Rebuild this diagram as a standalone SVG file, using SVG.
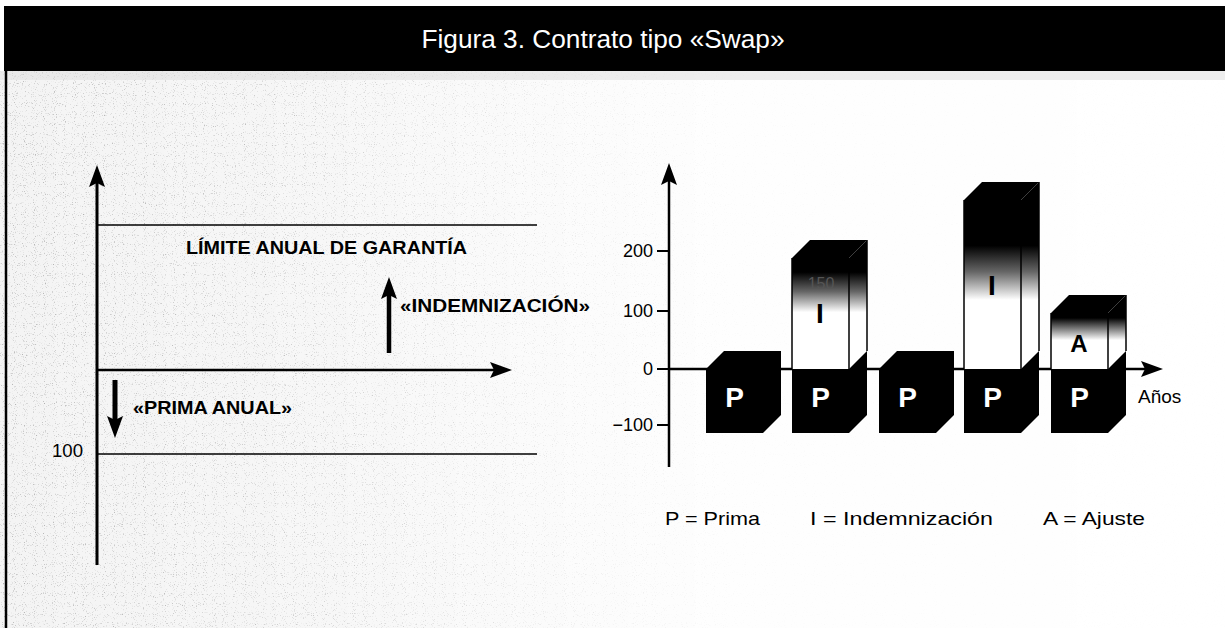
<svg xmlns="http://www.w3.org/2000/svg" width="1225" height="628" viewBox="0 0 1225 628">
<style>
.t{font-family:"Liberation Sans",Arial,sans-serif;fill:#000}
.b{font-weight:bold}
.w{fill:#fff}
.ln{stroke:#000;fill:none}
.blk{fill:#000}
.edge{stroke:#000;stroke-width:1.5;fill:none}
</style>
<defs>
<marker id="ah" markerUnits="userSpaceOnUse" markerWidth="22" markerHeight="16" viewBox="0 0 22 16" refX="4" refY="8" orient="auto">
<path d="M0,0 L22,8 L0,16 L4,8 z" fill="#000"/>
</marker>
<filter id="grain" x="0" y="0" width="100%" height="100%">
<feTurbulence type="fractalNoise" baseFrequency="0.9" numOctaves="1" seed="7" result="n"/>
<feColorMatrix in="n" type="matrix" values="0 0 0 0 0.4  0 0 0 0 0.4  0 0 0 0 0.4  4 0 0 0 -2.35"/>
</filter>
<linearGradient id="fadeH" x1="0" y1="0" x2="1225" y2="0" gradientUnits="userSpaceOnUse">
<stop offset="0" stop-color="#fff" stop-opacity="1"/>
<stop offset="0.25" stop-color="#fff" stop-opacity="0.75"/>
<stop offset="0.47" stop-color="#fff" stop-opacity="0.3"/>
<stop offset="0.6" stop-color="#fff" stop-opacity="0.08"/>
<stop offset="1" stop-color="#fff" stop-opacity="0.03"/>
</linearGradient>
<mask id="fadeMask"><rect x="0" y="0" width="1225" height="628" fill="url(#fadeH)"/></mask>
<linearGradient id="g2" x1="0" y1="240" x2="0" y2="369" gradientUnits="userSpaceOnUse">
<stop offset="0" stop-color="#000"/><stop offset="0.25" stop-color="#000"/><stop offset="0.4" stop-color="#666"/><stop offset="0.56" stop-color="#fff"/><stop offset="1" stop-color="#fff"/>
</linearGradient>
<linearGradient id="g4" x1="0" y1="182" x2="0" y2="369" gradientUnits="userSpaceOnUse">
<stop offset="0" stop-color="#000"/><stop offset="0.34" stop-color="#000"/><stop offset="0.48" stop-color="#666"/><stop offset="0.63" stop-color="#fff"/><stop offset="1" stop-color="#fff"/>
</linearGradient>
<linearGradient id="g5" x1="0" y1="295" x2="0" y2="369" gradientUnits="userSpaceOnUse">
<stop offset="0" stop-color="#000"/><stop offset="0.31" stop-color="#000"/><stop offset="0.45" stop-color="#777"/><stop offset="0.61" stop-color="#fff"/><stop offset="1" stop-color="#fff"/>
</linearGradient>
</defs>

<rect x="0" y="0" width="1225" height="628" fill="#fff"/>
<g id="texture" mask="url(#fadeMask)">
<rect x="0" y="71" width="1225" height="557" fill="#f4f4f4"/>
<rect x="0" y="71" width="1225" height="557" filter="url(#grain)"/>
</g>
<rect x="0" y="71" width="1225" height="9" fill="#ddd" opacity="0.5"/>

<g id="header">
<rect x="4" y="6" width="1221" height="65" fill="#000"/>
<text class="t w" x="603" y="48" font-size="25" text-anchor="middle" textLength="363" lengthAdjust="spacingAndGlyphs">Figura 3. Contrato tipo «Swap»</text>
</g>
<line x1="6" y1="71" x2="6" y2="628" stroke="#000" stroke-width="2.5"/>

<g id="connectors">
<line class="ln" x1="97" y1="565" x2="97" y2="183" stroke-width="3" marker-end="url(#ah)"/>
<line class="ln" x1="97" y1="225" x2="537" y2="225" stroke-width="1.6"/>
<line class="ln" x1="97" y1="370" x2="494" y2="370" stroke-width="2.5" marker-end="url(#ah)"/>
<line class="ln" x1="97" y1="454" x2="537" y2="454" stroke-width="1.6"/>
<line class="ln" x1="389" y1="353" x2="389" y2="295" stroke-width="4.5" marker-end="url(#ah)"/>
<line class="ln" x1="115" y1="380" x2="115" y2="420" stroke-width="5" marker-end="url(#ah)"/>
<line class="ln" x1="669" y1="467" x2="669" y2="181" stroke-width="2.5" marker-end="url(#ah)"/>
<line class="ln" x1="669" y1="369" x2="1145" y2="369" stroke-width="2.5" marker-end="url(#ah)"/>
<line class="ln" x1="657" y1="251" x2="669" y2="251" stroke-width="2"/>
<line class="ln" x1="657" y1="311" x2="669" y2="311" stroke-width="2"/>
<line class="ln" x1="657" y1="369" x2="669" y2="369" stroke-width="2"/>
<line class="ln" x1="657" y1="425" x2="669" y2="425" stroke-width="2"/>
</g>

<g id="left-labels">
<text class="t b" x="186" y="254" font-size="19" textLength="281" lengthAdjust="spacingAndGlyphs">LÍMITE ANUAL DE GARANTÍA</text>
<text class="t b" x="400" y="312" font-size="19" textLength="190" lengthAdjust="spacingAndGlyphs">«INDEMNIZACIÓN»</text>
<text class="t b" x="133" y="414" font-size="19" textLength="159" lengthAdjust="spacingAndGlyphs">«PRIMA ANUAL»</text>
<text class="t" x="52" y="457" font-size="18" textLength="31" lengthAdjust="spacingAndGlyphs">100</text>
</g>

<g id="axis-labels">
<text class="t" x="653" y="257" font-size="18" text-anchor="end">200</text>
<text class="t" x="653" y="317" font-size="18" text-anchor="end">100</text>
<text class="t" x="653" y="375" font-size="18" text-anchor="end">0</text>
<text class="t" x="653" y="431" font-size="18" text-anchor="end">−100</text>
<text class="t" x="1138" y="403" font-size="19">Años</text>
</g>

<g id="bar1">
<polygon class="blk" points="706,369 724,351 781,351 781,415 763,433 706,433"/>
<text class="t b w" x="734.5" y="407" font-size="28" text-anchor="middle">P</text>
</g>

<g id="bar2">
<polygon class="blk" points="792,369 810,351 867,351 867,415 849,433 792,433"/>
<rect x="792" y="258" width="57" height="111" fill="url(#g2)"/>
<polygon points="849,258 867,240 867,351 849,369" fill="url(#g2)"/>
<polygon class="blk" points="792,258 810,240 867,240 849,258"/>
<line class="edge" x1="792" y1="258" x2="792" y2="369"/>
<line class="edge" x1="849" y1="258" x2="849" y2="369"/>
<line class="edge" x1="867" y1="240" x2="867" y2="351"/>
<text class="t" x="821" y="289" font-size="16" text-anchor="middle" style="fill:#555">150</text>
<text class="t b" x="820" y="323" font-size="28" text-anchor="middle">I</text>
<text class="t b w" x="820.5" y="407" font-size="28" text-anchor="middle">P</text>
</g>

<g id="bar3">
<polygon class="blk" points="879,369 897,351 954,351 954,415 936,433 879,433"/>
<text class="t b w" x="907.5" y="407" font-size="28" text-anchor="middle">P</text>
</g>

<g id="bar4">
<polygon class="blk" points="964,369 982,351 1039,351 1039,415 1021,433 964,433"/>
<rect x="964" y="200" width="57" height="169" fill="url(#g4)"/>
<polygon points="1021,200 1039,182 1039,351 1021,369" fill="url(#g4)"/>
<polygon class="blk" points="964,200 982,182 1039,182 1021,200"/>
<line class="edge" x1="964" y1="200" x2="964" y2="369"/>
<line class="edge" x1="1021" y1="200" x2="1021" y2="369"/>
<line class="edge" x1="1039" y1="182" x2="1039" y2="351"/>
<text class="t b" x="992" y="295" font-size="28" text-anchor="middle">I</text>
<text class="t b w" x="992.5" y="407" font-size="28" text-anchor="middle">P</text>
</g>

<g id="bar5">
<polygon class="blk" points="1051,369 1069,351 1126,351 1126,415 1108,433 1051,433"/>
<rect x="1051" y="313" width="57" height="56" fill="url(#g5)"/>
<polygon points="1108,313 1126,295 1126,351 1108,369" fill="url(#g5)"/>
<polygon class="blk" points="1051,313 1069,295 1126,295 1108,313"/>
<line class="edge" x1="1051" y1="313" x2="1051" y2="369"/>
<line class="edge" x1="1108" y1="313" x2="1108" y2="369"/>
<line class="edge" x1="1126" y1="295" x2="1126" y2="351"/>
<text class="t b" x="1079" y="352" font-size="24" text-anchor="middle">A</text>
<text class="t b w" x="1079.5" y="407" font-size="28" text-anchor="middle">P</text>
</g>

<g id="legend">
<text class="t" x="665" y="525" font-size="19" textLength="95" lengthAdjust="spacingAndGlyphs">P = Prima</text>
<text class="t" x="810" y="525" font-size="19" textLength="183" lengthAdjust="spacingAndGlyphs">I = Indemnización</text>
<text class="t" x="1043" y="525" font-size="19" textLength="102" lengthAdjust="spacingAndGlyphs">A = Ajuste</text>
</g>
</svg>
